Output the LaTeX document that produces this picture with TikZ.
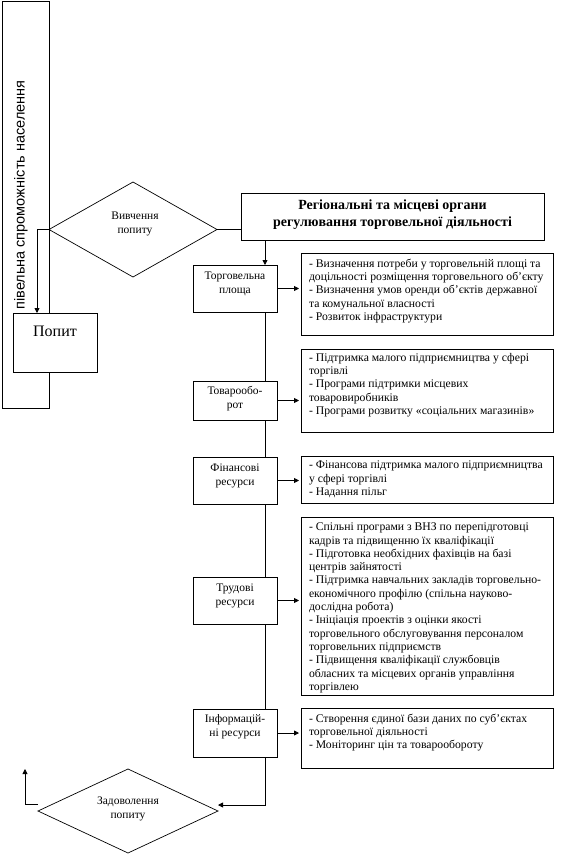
\documentclass[tikz,border=0pt]{standalone}
\usepackage{fontspec}
\setmainfont{Liberation Serif}
\newfontfamily\serf{Liberation Serif}
\newfontfamily\arialf{Liberation Sans}
\usetikzlibrary{shapes.geometric,arrows.meta}
\begin{document}
\begin{tikzpicture}[x=1pt,y=-1pt,
  every node/.style={inner sep=0pt, outer sep=0pt, font=\serf},
  boxb/.style={draw, line width=0.9pt, fill=white, rectangle},
  ln/.style={line width=0.8pt},
  arr/.style={ln, -{Triangle[length=5pt,width=5pt]}},
  dia/.style={draw, diamond, line width=0.7pt, fill=white},
  rtext/.style={anchor=north west, align=left, font=\serf\fontsize{11.7}{13.3}\selectfont},
  ltext/.style={align=center, font=\serf\fontsize{11.5}{14}\selectfont},
  lbox/.style={boxb, minimum width=84, anchor=north west},
  rbox/.style={boxb, minimum width=252, anchor=north west},
]
\useasboundingbox (0,0) rectangle (566,854);

% left tall rectangle
\node[boxb, minimum width=47, minimum height=407, anchor=north west] (tall) at (2,1) {};
\node[rotate=90, font=\arialf\fontsize{14.5}{16}\selectfont] (tallt) at (21,195) {півельна спроможність населення};

% Попит
\node[boxb, minimum width=84, minimum height=59, anchor=north west] (popyt) at (13,313) {};
\node[font=\serf\fontsize{16}{18}\selectfont] (popytt) at (55,331) {Попит};

% diamond 1
\node[dia, minimum width=168, minimum height=95] (d1) at (133,229.5) {};
\node[ltext] (d1t) at (135,224) {Вивчення\\попиту};

% regional box
\node[boxb, minimum width=303, minimum height=47, anchor=north west] (reg) at (241,193) {};
\node[font=\serf\bfseries\fontsize{14}{17}\selectfont, align=center] (regt) at (392.5,214.5) {Регіональні та місцеві органи\\регулювання торговельної діяльності};

% left boxes
\node[lbox, minimum height=47] (torg) at (193,265) {};
\node[ltext] at (235,283.5) {Торговельна\\площа};
\node[lbox, minimum height=39] (tovar) at (193,381) {};
\node[ltext] at (235,398.5) {Товарообо-\\рот};
\node[lbox, minimum height=47] (fin) at (193,457) {};
\node[ltext] at (235,475.5) {Фінансові\\ресурси};
\node[lbox, minimum height=47] (trud) at (193,577) {};
\node[ltext] at (235,595.5) {Трудові\\ресурси};
\node[lbox, minimum height=48] (inf) at (193,709) {};
\node[ltext] at (235,727) {Інформацій-\\ні ресурси};

% right boxes
\node[rbox, minimum height=82] (r1) at (301,253) {};
\node[rtext] at ([shift={(8,6)}]r1.north west) {- Визначення потреби у торговельній площі та\\доцільності розміщення торговельного об’єкту\\- Визначення умов оренди об’єктів державної\\та комунальної власності\\- Розвиток інфраструктури};
\node[rbox, minimum height=83] (r2) at (301,349) {};
\node[rtext] at ([shift={(8,4)}]r2.north west) {- Підтримка малого підприємництва у сфері\\торгівлі\\- Програми підтримки місцевих\\товаровиробників\\- Програми розвитку «соціальних магазинів»};
\node[rbox, minimum height=47] (r3) at (301,456) {};
\node[rtext] at ([shift={(8,5)}]r3.north west) {- Фінансова підтримка малого підприємництва\\у сфері торгівлі\\- Надання пільг};
\node[rbox, minimum height=178] (r4) at (301,517) {};
\node[rtext] at ([shift={(8,6)}]r4.north west) {- Спільні програми з ВНЗ по перепідготовці\\кадрів та підвищенню їх кваліфікації\\- Підготовка необхідних фахівців на базі\\центрів зайнятості\\- Підтримка навчальних закладів торговельно-\\економічного профілю (спільна науково-\\дослідна робота)\\- Ініціація проектів з оцінки якості\\торговельного обслуговування персоналом\\торговельних підприємств\\- Підвищення кваліфікації службовців\\обласних та місцевих органів управління\\торгівлею};
\node[rbox, minimum height=60] (r5) at (301,708) {};
\node[rtext] at ([shift={(8,6)}]r5.north west) {- Створення єдиної бази даних по суб’єктах\\торговельної діяльності\\- Моніторинг цін та товарообороту};

% diamond 2
\node[dia, minimum width=180, minimum height=84] (d2) at (128,811) {};
\node[ltext] (d2t) at (128,809) {Задоволення\\попиту};

% connectors
\coordinate (tx) at (265,0);
\coordinate (ret) at (25,769);
\draw[arr] (d1.west) -| ([xshift=24pt]popyt.north west);
\draw[ln] (d1.east) -- (d1.east -| reg.west);
\draw[arr] (reg.south -| tx) -- (torg.north -| tx);
\draw[ln] (torg.south -| tx) -- (tovar.north -| tx);
\draw[ln] (tovar.south -| tx) -- (fin.north -| tx);
\draw[ln] (fin.south -| tx) -- (trud.north -| tx);
\draw[ln] (trud.south -| tx) -- (inf.north -| tx);
\draw[arr] (inf.south -| tx) |- ([yshift=6pt]d2.east);
\draw[arr] ([yshift=7pt]d2.west) -| (ret);
\draw[arr, shorten >=2pt] (torg.east) -- (torg.east -| r1.west);
\draw[arr, shorten >=2pt] (tovar.east) -- (tovar.east -| r2.west);
\draw[arr, shorten >=2pt] (fin.east) -- (fin.east -| r3.west);
\draw[arr, shorten >=2pt] (trud.east) -- (trud.east -| r4.west);
\draw[arr, shorten >=2pt] (inf.east) -- (inf.east -| r5.west);
\end{tikzpicture}
\end{document}
